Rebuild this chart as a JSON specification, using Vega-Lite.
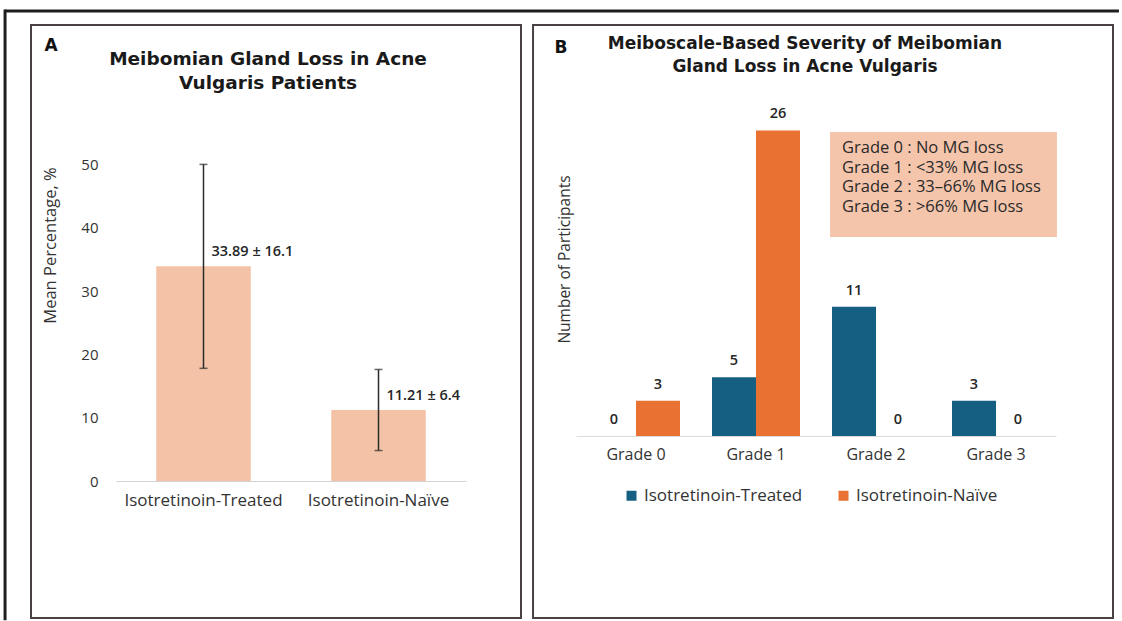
{
  "$schema": "https://vega.github.io/schema/vega-lite/v6.json",
  "background": "white",
  "padding": {"left": 3, "top": 7, "right": 0, "bottom": 0},
  "bounds": "flush",
  "spacing": 110,
  "config": {
    "font": "Open Sans",
    "view": {"stroke": null},
    "axis": {"grid": false, "ticks": false}
  },
  "hconcat": [
    {
      "width": 350,
      "height": 380,
      "title": {
        "text": ["Meibomian Gland Loss in Acne", "Vulgaris Patients"],
        "frame": "group",
        "anchor": "middle",
        "dx": -23,
        "offset": -85,
        "font": "DejaVu Sans",
        "fontSize": 18.5,
        "fontWeight": "bold",
        "color": "#1a1a1a",
        "lineHeight": 24
      },
      "layer": [
        {
          "data": {"values": [{}]},
          "layer": [
            {
              "mark": {"type": "rect", "fill": null, "stroke": "#4a4242", "strokeWidth": 2},
              "encoding": {
                "x": {"datum": -0.4857, "type": "quantitative", "scale": {"domain": [0, 2], "nice": false, "zero": false}, "axis": null},
                "x2": {"datum": 2.3143},
                "y": {"datum": 72.0, "type": "quantitative", "scale": {"domain": [0, 60], "nice": false, "zero": false}, "axis": null},
                "y2": {"datum": -21.63}
              }
            },
            {
              "mark": {"type": "rule", "color": "#1e1e1e", "strokeWidth": 3},
              "encoding": {
                "x": {"datum": -0.634, "type": "quantitative"},
                "x2": {"datum": 5.731},
                "y": {"datum": 74.21, "type": "quantitative"}
              }
            },
            {
              "mark": {"type": "rule", "color": "#1e1e1e", "strokeWidth": 3},
              "encoding": {
                "x": {"datum": -0.634, "type": "quantitative"},
                "y": {"datum": 74.45, "type": "quantitative"},
                "y2": {"datum": -22.0}
              }
            },
            {
              "mark": {"type": "text", "text": "A", "font": "DejaVu Sans", "fontSize": 17, "fontWeight": "bold", "color": "#111", "align": "center", "baseline": "middle"},
              "encoding": {
                "x": {"datum": -0.371, "type": "quantitative"},
                "y": {"datum": 68.68, "type": "quantitative"}
              }
            }
          ]
        },
        {
          "data": {
            "values": [
              {"group": "Isotretinoin-Treated", "mean": 33.89, "sd": 16.1, "label": "33.89 ± 16.1"},
              {"group": "Isotretinoin-Naïve", "mean": 11.21, "sd": 6.4, "label": "11.21 ± 6.4"}
            ]
          },
          "layer": [
            {
              "mark": {"type": "bar", "color": "#F4C2A6"},
              "encoding": {
                "x": {
                  "field": "group", "type": "nominal", "sort": null,
                  "scale": {"paddingInner": 0.46, "paddingOuter": 0.23},
                  "axis": {"orient": "bottom", "title": null, "labelAngle": 0, "labelFontSize": 17, "labelColor": "#333333", "labelPadding": 11, "domainColor": "#d4d4d4", "domainWidth": 1}
                },
                "y": {
                  "field": "mean", "type": "quantitative", "title": "Mean Percentage, %",
                  "scale": {"domain": [0, 60], "nice": false},
                  "axis": {"orient": "left", "values": [0, 10, 20, 30, 40, 50], "domain": false, "labelFontSize": 15, "labelColor": "#333333", "labelPadding": 18, "titleFontSize": 16.5, "titleFontWeight": "normal", "titleColor": "#333333", "titlePadding": 22, "titleY": 144}
                }
              }
            },
            {
              "mark": {"type": "errorbar", "ticks": true, "size": 8, "thickness": 1.5, "color": "#2b2b2b"},
              "encoding": {
                "x": {"field": "group", "type": "nominal", "sort": null},
                "y": {"field": "mean", "type": "quantitative", "title": "Mean Percentage, %"},
                "yError": {"field": "sd"}
              }
            },
            {
              "mark": {"type": "text", "align": "left", "baseline": "middle", "dx": 8, "dy": -14, "fontSize": 14.5, "fontWeight": 600, "color": "#262626"},
              "encoding": {
                "x": {"field": "group", "type": "nominal", "sort": null},
                "y": {"field": "mean", "type": "quantitative", "title": "Mean Percentage, %"},
                "text": {"field": "label"}
              }
            }
          ]
        }
      ],
      "resolve": {"scale": {"x": "independent", "y": "independent"}}
    },
    {
      "width": 480,
      "height": 335,
      "title": {
        "text": ["Meiboscale-Based Severity of Meibomian", "Gland Loss in Acne Vulgaris"],
        "frame": "group",
        "anchor": "middle",
        "dx": -11,
        "offset": -52,
        "font": "DejaVu Sans",
        "fontSize": 17,
        "fontWeight": "bold",
        "color": "#1a1a1a",
        "lineHeight": 23
      },
      "layer": [
        {
          "data": {"values": [{}]},
          "layer": [
            {
              "mark": {"type": "rect", "fill": null, "stroke": "#4a4242", "strokeWidth": 2},
              "encoding": {
                "x": {"datum": -0.358, "type": "quantitative", "scale": {"domain": [0, 4], "nice": false, "zero": false}, "axis": null},
                "x2": {"datum": 4.475},
                "y": {"datum": 34.97, "type": "quantitative", "scale": {"domain": [0, 28.5], "nice": false, "zero": false}, "axis": null},
                "y2": {"datum": -15.48}
              }
            },
            {
              "mark": {"type": "text", "text": "B", "font": "DejaVu Sans", "fontSize": 17, "fontWeight": "bold", "color": "#111", "align": "center", "baseline": "middle"},
              "encoding": {
                "x": {"datum": -0.125, "type": "quantitative"},
                "y": {"datum": 33.0, "type": "quantitative"}
              }
            },
            {
              "mark": {"type": "rect", "color": "#F5C5AB"},
              "encoding": {
                "x": {"datum": 2.117, "type": "quantitative"},
                "x2": {"datum": 4.008},
                "y": {"datum": 25.87, "type": "quantitative"},
                "y2": {"datum": 16.94}
              }
            },
            {
              "mark": {
                "type": "text",
                "text": ["Grade 0 : No MG loss", "Grade 1 : <33% MG loss", "Grade 2 : 33–66% MG loss", "Grade 3 : >66% MG loss"],
                "align": "left", "baseline": "middle", "lineHeight": 19.7, "fontSize": 16.5, "color": "#2a2a2a"
              },
              "encoding": {
                "x": {"datum": 2.217, "type": "quantitative"},
                "y": {"datum": 24.5, "type": "quantitative"}
              }
            }
          ]
        },
        {
          "data": {
            "values": [
              {"grade": "Grade 0", "group": "Isotretinoin-Treated", "count": 0},
              {"grade": "Grade 0", "group": "Isotretinoin-Naïve", "count": 3},
              {"grade": "Grade 1", "group": "Isotretinoin-Treated", "count": 5},
              {"grade": "Grade 1", "group": "Isotretinoin-Naïve", "count": 26},
              {"grade": "Grade 2", "group": "Isotretinoin-Treated", "count": 11},
              {"grade": "Grade 2", "group": "Isotretinoin-Naïve", "count": 0},
              {"grade": "Grade 3", "group": "Isotretinoin-Treated", "count": 3},
              {"grade": "Grade 3", "group": "Isotretinoin-Naïve", "count": 0}
            ]
          },
          "layer": [
            {
              "mark": {"type": "bar"},
              "encoding": {
                "x": {
                  "field": "grade", "type": "nominal", "sort": null,
                  "scale": {"paddingInner": 0.2667, "paddingOuter": 0.1333},
                  "axis": {"orient": "bottom", "title": null, "labelAngle": 0, "labelFontSize": 16, "labelColor": "#333333", "labelPadding": 10, "domainColor": "#dcdcdc", "domainWidth": 1}
                },
                "xOffset": {"field": "group", "type": "nominal", "sort": ["Isotretinoin-Treated", "Isotretinoin-Naïve"], "scale": {"paddingInner": 0, "paddingOuter": 0}},
                "y": {
                  "field": "count", "type": "quantitative", "title": "Number of Participants",
                  "scale": {"domain": [0, 28.5], "nice": false},
                  "axis": {"orient": "left", "labels": false, "domain": false, "titleFontSize": 15.5, "titleFontWeight": "normal", "titleColor": "#333333", "titlePadding": 4, "titleY": 158}
                },
                "color": {
                  "field": "group", "type": "nominal",
                  "scale": {"domain": ["Isotretinoin-Treated", "Isotretinoin-Naïve"], "range": ["#156082", "#E97132"]},
                  "legend": {"orient": "none", "legendX": 507, "legendY": 386, "direction": "horizontal", "title": null, "symbolType": "square", "symbolSize": 100, "symbolStrokeWidth": 0, "labelFontSize": 17, "labelColor": "#333333", "columnPadding": 32, "labelOffset": 4, "padding": 0}
                }
              }
            },
            {
              "mark": {"type": "text", "baseline": "middle", "dy": -16, "fontSize": 14.5, "fontWeight": 600, "color": "#262626"},
              "encoding": {
                "x": {"field": "grade", "type": "nominal", "sort": null},
                "xOffset": {"field": "group", "type": "nominal", "sort": ["Isotretinoin-Treated", "Isotretinoin-Naïve"]},
                "y": {"field": "count", "type": "quantitative", "title": "Number of Participants"},
                "text": {"field": "count"}
              }
            }
          ]
        }
      ],
      "resolve": {"scale": {"x": "independent", "y": "independent"}}
    }
  ]
}
